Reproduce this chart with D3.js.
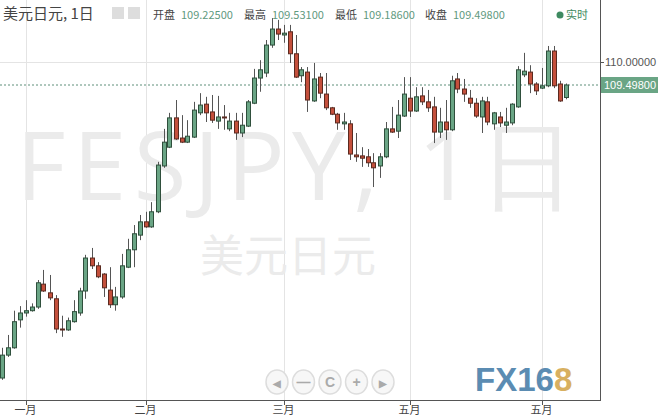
<!DOCTYPE html>
<html><head><meta charset="utf-8">
<script src="https://cdn.jsdelivr.net/npm/d3@7"></script>
<style>body{margin:0;background:#fff}svg{display:block}</style>
</head><body>
<script>
const opens =[103.10,103.60,103.76,104.37,104.52,104.57,104.65,105.15,104.96,104.83,104.17,104.15,104.33,104.52,105.00,105.72,105.55,105.37,105.02,104.70,104.87,105.52,105.90,106.22,106.51,106.40,106.73,107.73,108.14,108.78,108.34,108.25,108.36,108.89,109.08,108.91,108.71,108.80,108.54,108.71,108.45,108.60,109.10,109.65,109.76,110.37,110.72,110.59,110.66,110.18,109.70,109.78,109.15,109.67,109.30,109.00,108.86,108.65,108.65,107.97,107.95,107.93,107.80,107.73,107.93,108.54,108.49,108.82,109.21,108.93,109.26,109.13,109.02,108.47,108.69,108.52,109.63,109.41,109.21,109.10,108.80,109.13,108.65,108.80,108.62,108.67,109.02,109.72,109.78,109.52,109.43,109.48,110.24,109.52,109.225];
const highs =[103.76,104.04,104.57,104.67,104.80,104.73,105.24,105.46,105.35,104.91,104.46,104.42,104.80,105.07,105.79,105.94,105.63,105.39,105.52,105.09,105.81,106.14,106.44,106.66,106.73,106.94,107.82,108.54,108.89,109.17,108.84,108.73,109.13,109.32,109.24,109.28,109.26,109.06,108.89,108.89,108.89,109.17,109.85,110.04,110.48,110.96,110.92,110.81,110.81,110.59,109.89,109.89,109.98,109.76,109.76,109.02,108.89,108.89,108.73,108.45,108.14,108.10,108.01,108.01,108.69,109.02,109.17,109.67,109.67,109.45,109.45,109.39,109.24,109.00,109.17,109.70,109.76,109.63,109.39,109.21,109.24,109.24,108.91,108.91,109.00,109.10,109.91,110.20,109.93,109.56,109.87,110.35,110.35,109.59,109.531];
const lows  =[103.06,103.56,103.74,104.20,104.44,104.55,104.61,104.98,104.80,104.08,104.00,104.13,104.31,104.46,104.83,105.48,105.28,104.87,104.63,104.57,104.83,105.50,105.52,106.11,106.38,106.38,106.70,107.69,108.12,108.30,108.23,108.23,108.34,108.84,108.69,108.67,108.54,108.52,108.49,108.30,108.36,108.58,109.08,109.35,109.67,110.31,110.48,110.42,109.98,109.65,109.56,108.91,109.13,109.21,108.95,108.84,108.52,108.52,107.86,107.82,107.71,107.71,107.27,107.47,107.90,108.45,108.34,108.80,108.80,108.91,109.06,108.91,108.23,108.34,108.30,108.49,109.32,109.13,109.00,108.78,108.45,108.62,108.52,108.58,108.45,108.62,109.00,109.67,109.32,109.28,109.41,109.45,109.43,109.13,109.186];
const closes=[103.60,103.76,104.33,104.52,104.57,104.65,105.18,105.00,104.85,104.17,104.16,104.35,104.55,105.00,105.72,105.55,105.31,105.07,104.70,104.87,105.55,105.90,106.25,106.51,106.40,106.73,107.75,108.25,108.78,108.32,108.25,108.38,108.95,109.06,108.89,108.73,108.80,108.79,108.71,108.45,108.62,109.13,109.65,109.83,110.37,110.72,110.61,110.63,110.18,109.67,109.83,109.17,109.63,109.32,109.00,108.86,108.67,108.69,107.99,107.93,107.90,107.80,107.69,107.93,108.54,108.47,108.84,109.30,108.93,109.24,109.13,109.00,108.47,108.69,108.52,109.59,109.41,109.30,109.10,108.82,109.15,108.69,108.89,108.67,108.69,109.08,109.83,109.80,109.52,109.37,109.48,110.24,109.48,109.15,109.498];
const monthIdx=[4,24,47,68,90];
const monthLabels=["一月","二月","三月","五月","五月"];
const yTicks=[110];
const lastPrice=109.498;

const W=658,H=417;
const svg=d3.select("body").append("svg").attr("width",W).attr("height",H);
const x=d3.scaleLinear().domain([0,94]).range([1.5,565.5]);
const y=d3.scaleLinear().domain([102.62,111.354]).range([400,0]);
const font="'Noto Sans CJK SC','Noto Sans',sans-serif";

svg.selectAll(".vg").data(monthIdx).join("line").attr("x1",d=>Math.round(x(d))+0.5).attr("x2",d=>Math.round(x(d))+0.5)
  .attr("y1",0).attr("y2",400).attr("stroke","#e4e4e4");
svg.selectAll(".hg").data(yTicks).join("line").attr("x1",0).attr("x2",600).attr("y1",d=>Math.round(y(d))+0.5).attr("y2",d=>Math.round(y(d))+0.5).attr("stroke","#e4e4e4");

svg.append("text").attr("x",16).attr("y",200).attr("font-family","'Open Sans',Arial,sans-serif").attr("font-size",96)
  .attr("fill","#ebebeb").attr("textLength",560).text("FESJPY, 1日");
svg.append("text").attr("x",200).attr("y",272).attr("font-family",font).attr("font-size",44).attr("fill","#ebebeb").text("美元日元");

svg.append("line").attr("x1",0).attr("x2",600).attr("y1",y(lastPrice)).attr("y2",y(lastPrice))
  .attr("stroke","#5f8f7a").attr("stroke-dasharray","2,2");

const idx=d3.range(closes.length);
const g=svg.append("g");
g.selectAll(".w").data(idx).join("line").attr("x1",i=>Math.round(x(i))+0.5).attr("x2",i=>Math.round(x(i))+0.5)
  .attr("y1",i=>y(highs[i])).attr("y2",i=>y(lows[i])).attr("stroke","#555");
g.selectAll(".b").data(idx).join("rect")
  .attr("x",i=>Math.round(x(i))-2+0.5).attr("width",4)
  .attr("y",i=>y(Math.max(opens[i],closes[i])))
  .attr("height",i=>Math.max(1,Math.abs(y(opens[i])-y(closes[i]))))
  .attr("fill",i=>closes[i]>=opens[i]?"#6aa585":"#c4503c")
  .attr("stroke",i=>closes[i]>=opens[i]?"#2f4f3c":"#5a2a20");

svg.append("line").attr("x1",600.5).attr("x2",600.5).attr("y1",0).attr("y2",401).attr("stroke","#555");
svg.append("line").attr("x1",0).attr("x2",601).attr("y1",400.5).attr("y2",400.5).attr("stroke","#555");
svg.selectAll(".yt").data(yTicks).join("text").attr("x",605).attr("y",d=>y(d)+4).attr("font-family","Arial,'Liberation Sans',sans-serif")
  .attr("font-size",11).attr("fill","#555").text(d=>d.toFixed(5));
svg.selectAll(".ytk").data(yTicks).join("line").attr("x1",600).attr("x2",604).attr("y1",d=>y(d)+0.5).attr("y2",d=>y(d)+0.5).attr("stroke","#555");
svg.append("rect").attr("x",601).attr("y",y(lastPrice)-8).attr("width",57).attr("height",16).attr("fill","#6aa585");
svg.append("text").attr("x",604).attr("y",y(lastPrice)+4).attr("font-family","Arial,'Liberation Sans',sans-serif").attr("font-size",11).attr("fill","#fff").text(lastPrice.toFixed(5));
svg.selectAll(".xt").data(monthIdx).join("line").attr("x1",d=>Math.round(x(d))+0.5).attr("x2",d=>Math.round(x(d))+0.5).attr("y1",401).attr("y2",405).attr("stroke","#555");
svg.selectAll(".xl").data(monthIdx).join("text").attr("x",d=>x(d)).attr("y",414).attr("text-anchor","middle")
  .attr("font-family",font).attr("font-size",11).attr("fill","#444").text((d,i)=>monthLabels[i]);

svg.append("text").attr("x",3).attr("y",19).attr("font-family",font).attr("font-size",15).attr("fill","#444").text("美元日元, 1日");
[112,128].forEach(px=>svg.append("rect").attr("x",px).attr("y",7).attr("width",12).attr("height",12).attr("fill","#ddd"));
const hdr=[["开盘",153],["109.22500",181],["最高",244],["109.53100",272],["最低",335],["109.18600",363],["收盘",425],["109.49800",453]];
hdr.forEach(([t,px],k)=>svg.append("text").attr("x",px).attr("y",19).attr("font-family",font).attr("font-size",11)
  .attr("fill",k%2?"#5f9a80":"#444").text(t));
svg.append("circle").attr("cx",560).attr("cy",15).attr("r",3.5).attr("fill","#3e8a60");
svg.append("text").attr("x",566).attr("y",19).attr("font-family",font).attr("font-size",11).attr("fill","#3e8a60").text("实时");

const nav=["◀","—","C","+","▶"];
nav.forEach((t,k)=>{const cx=277+k*26.5;
  svg.append("ellipse").attr("cx",cx).attr("cy",382).attr("rx",11).attr("ry",12).attr("fill","#f7f7f7").attr("stroke","#ddd").attr("stroke-width",1.5);
  svg.append("text").attr("x",cx).attr("y",387).attr("text-anchor","middle").attr("font-family","Arial,sans-serif").attr("font-size",k==0||k==4?10:14).attr("font-weight","bold").attr("fill","#aaa").text(t);});

const logo=svg.append("text").attr("x",475).attr("y",391).attr("font-family","Arial,'Liberation Sans',sans-serif").attr("font-weight","bold").attr("font-size",33);
logo.append("tspan").attr("fill","#5b8cb2").text("FX16");
logo.append("tspan").attr("fill","#d8b060").text("8");
</script>
</body></html>
